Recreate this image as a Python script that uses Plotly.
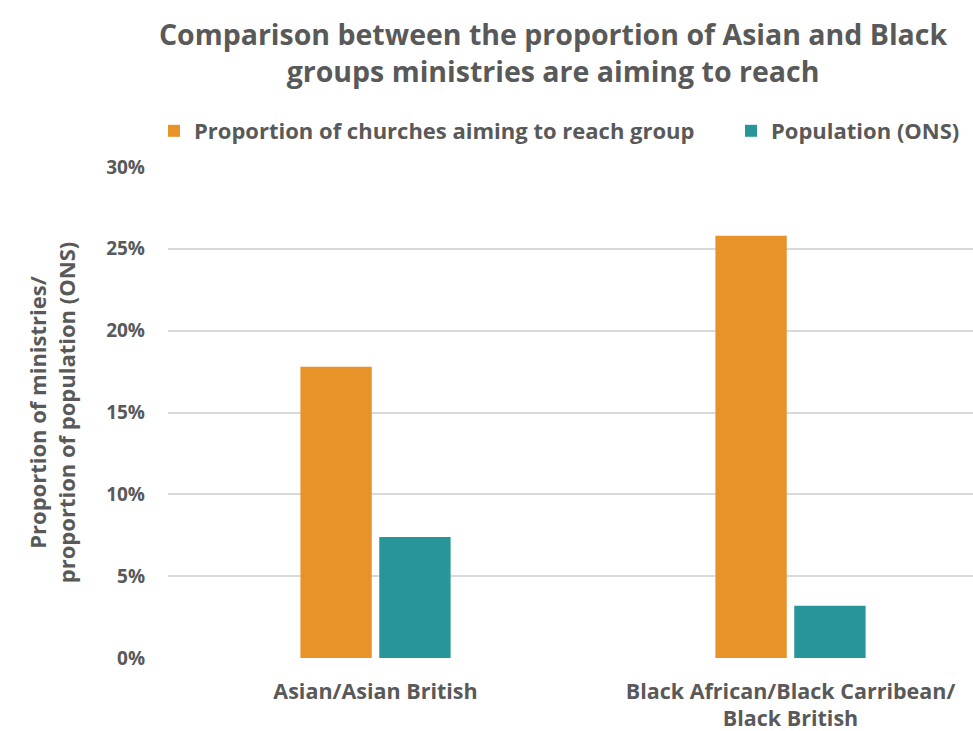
import plotly.graph_objects as go

categories = ["Asian/Asian British", "Black African/Black Carribean/<br>Black British"]
churches_share = [17.8, 25.8]
population_share = [7.4, 3.2]
series_names = ["Proportion of churches aiming to reach group", "Population (ONS)"]
y_ticks = [0, 5, 10, 15, 20, 25, 30]
y_tick_labels = [f"{v}%" for v in y_ticks]

ORANGE = "#E8922A"
TEAL = "#289698"
GREY = "#595959"
FONT = "Open Sans"

W, H = 973, 731
L, R, T, B = 168, 0, 167, 73
pw = W - L - R
ph = H - T - B

fig = go.Figure()
fig.add_trace(go.Bar(x=categories, y=churches_share, name=f"<b>{series_names[0]}</b>",
                     marker=dict(color=ORANGE, line=dict(width=0)), legend="legend"))
fig.add_trace(go.Bar(x=categories, y=population_share, name=f"<b>{series_names[1]}</b>",
                     marker=dict(color=TEAL, line=dict(width=0)), legend="legend2"))

legend_style = dict(
    orientation="h", xanchor="left", yanchor="middle",
    y=1 + (T - 131) / ph,
    font=dict(size=22, color=GREY, family=FONT),
    itemclick=False, bgcolor="rgba(0,0,0,0)",
)

fig.update_layout(
    width=W, height=H,
    margin=dict(l=L, r=R, t=T, b=B, autoexpand=False),
    paper_bgcolor="white", plot_bgcolor="white",
    barmode="group", bargap=0.62, bargroupgap=0.095,
    font=dict(family=FONT, color=GREY),
    title=dict(
        text="<b>Comparison between the proportion of Asian and Black<br>groups ministries are aiming to reach</b>",
        x=553 / W, xanchor="center", xref="container",
        y=1 - 45 / H, yanchor="middle", yref="container",
        font=dict(size=28.5, color=GREY, family=FONT),
    ),
    legend=dict(legend_style, x=(154 - L) / pw),
    legend2=dict(legend_style, x=(731 - L) / pw),
    showlegend=True,
)

fig.update_xaxes(
    range=[-0.5, 1.5 - 25 / 415],
    tickvals=categories, ticktext=[f"<b>{c}</b>" for c in categories],
    showgrid=False, showline=False, zeroline=False,
    ticks="", ticklabelstandoff=18,
    tickfont=dict(size=21.5, color=GREY, family=FONT),
)
fig.update_yaxes(
    range=[0, 30],
    tickvals=y_ticks, ticktext=[f"<b>{t}</b>" for t in y_tick_labels],
    showgrid=True, gridcolor="#D9D9D9", gridwidth=1.5,
    zeroline=False, showline=False,
    ticks="", ticklabelstandoff=22,
    tickfont=dict(size=19, color=GREY, family=FONT),
    title=dict(text="<b>Proportion of ministries/<br>proportion of population (ONS)</b>",
               font=dict(size=22, color=GREY, family=FONT), standoff=24),
)

fig.write_html("out.html")
